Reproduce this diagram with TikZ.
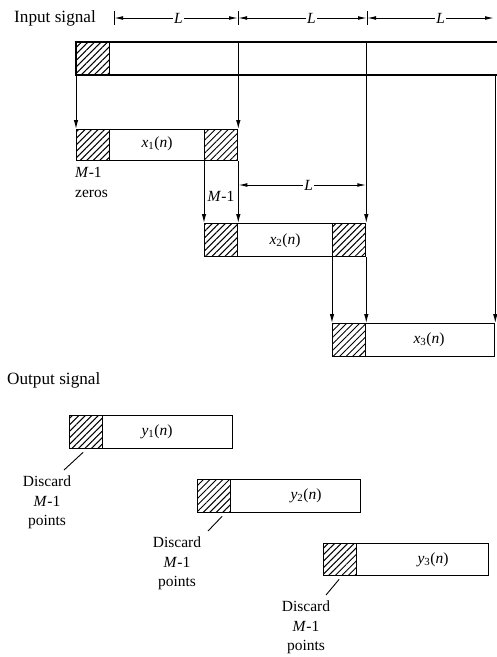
\documentclass[tikz,border=0pt]{standalone}
\usepackage{fontspec}
\setmainfont{Liberation Serif}
\usetikzlibrary{patterns.meta,arrows.meta,calc}
\tikzset{
 blk/.style={draw, line width=1.3pt, rectangle, inner sep=0pt, anchor=north west, minimum height=33pt, minimum width=162pt},
 hatchbox/.style={draw, line width=1.3pt, rectangle, inner sep=0pt, anchor=north west, minimum height=33pt, minimum width=33pt, pattern={Lines[angle=45,distance=4.6pt,line width=1pt]}},
 arr/.style={-{Latex[length=9pt,width=4.5pt]}, line width=1pt},
 dimline/.style={{Latex[length=9pt,width=3.8pt]}-{Latex[length=9pt,width=3.8pt]}, line width=1pt},
 lbl/.style={font=\fontsize{15.5}{19.5}\selectfont, inner sep=1pt},
 biglbl/.style={font=\fontsize{17.2}{19}\selectfont, inner sep=0pt},
 disc/.style={lbl, align=center, anchor=north},
 thinline/.style={line width=0.9pt},
}
\begin{document}
\begin{tikzpicture}[x=1pt,y=-1pt]
\useasboundingbox (0,0) rectangle (497,657);

% ---- Input signal ----
\node[biglbl, anchor=west] (insig) at (14,18) {Input signal};
\coordinate (t0) at (114,18);
\coordinate (t1) at (238,18);
\coordinate (t2) at (367,18);
\coordinate (t3) at (497,18);
\foreach \t in {t0,t1,t2} \draw[thinline] ($(\t)+(0,-7)$) -- ($(\t)+(0,7)$);
\draw[dimline] (t0) -- node[lbl, fill=white, pos=0.52] (L1) {\textit{L}} (t1);
\draw[dimline] (t1) -- node[lbl, fill=white, pos=0.57] (L2) {\textit{L}} (t2);
\draw[dimline] (t2) -- node[lbl, fill=white, pos=0.58] (L3) {\textit{L}} ($(t3)+(-3,0)$);

% input strip
\draw[line width=1.3pt] (500,42) -- (76,42) -- (76,75) -- (500,75);
\node[hatchbox] (inh) at (76,42) {};

% ---- blocks ----
\node[blk, minimum width=161pt, minimum height=31pt] (b1) at (76,129) {};
\node[hatchbox, minimum height=31pt] (b1a) at (76,129) {};
\node[hatchbox, minimum height=31pt] (b1b) at (204,129) {};
\node[lbl] (x1) at (157,144) {\textit{x}\textsubscript{1}(\textit{n})};

\node[blk, minimum width=161pt] (b2) at (204,223) {};
\node[hatchbox] (b2a) at (204,223) {};
\node[hatchbox] (b2b) at (332,223) {};
\node[lbl] (x2) at (285,241) {\textit{x}\textsubscript{2}(\textit{n})};

\node[blk, minimum width=162pt] (b3) at (332,323) {};
\node[hatchbox] (b3a) at (332,323) {};
\node[lbl] (x3) at (429,340) {\textit{x}\textsubscript{3}(\textit{n})};

% labels under block 1
\node[lbl, anchor=west] (m1) at (74,172) {\textit{M}-1};
\node[lbl, anchor=west] (zeros) at (74,194) {zeros};
\node[lbl] (m2) at (221,196) {\textit{M}-1};

% ---- arrows ----
\draw[arr] (inh.south west) -- (b1a.north west);
\draw[arr] (b1b.north east |- inh.north) -- (b1b.north east);
\draw[arr] (b2b.north east |- inh.north) -- (b2b.north east);
\draw[arr] (b3.north east |- inh.south) -- (b3.north east);
\draw[arr] (b1b.south west) -- (b2a.north west);
\draw[arr] (b1b.south east) -- (b2a.north east);
\draw[arr] (b2b.south west) -- (b3a.north west);
\draw[arr] (b2b.south east) -- (b3a.north east);

% middle L
\draw[dimline] (b1b.east |- 0,185) -- node[lbl, fill=white, pos=0.55] (L4) {\textit{L}} (b2b.east |- 0,185);

% ---- Output signal ----
\node[biglbl, anchor=west] (outsig) at (7,380) {Output signal};

\node[blk, minimum width=163pt] (o1) at (69,415) {};
\node[hatchbox] (o1a) at (69,415) {};
\node[lbl] (y1) at (157,432) {\textit{y}\textsubscript{1}(\textit{n})};

\node[blk, minimum width=163pt] (o2) at (197,479) {};
\node[hatchbox] (o2a) at (197,479) {};
\node[lbl] (y2) at (306,496) {\textit{y}\textsubscript{2}(\textit{n})};

\node[blk, minimum width=165pt, minimum height=32pt] (o3) at (323,543) {};
\node[hatchbox, minimum height=32pt] (o3a) at (323,543) {};
\node[lbl] (y3) at (433,560) {\textit{y}\textsubscript{3}(\textit{n})};

% discard labels
\node[disc] (d1) at (47,475) {Discard\\\textit{M}-1\\points};
\node[disc] (d2) at (177,536) {Discard\\\textit{M}-1\\points};
\node[disc] (d3) at (306,600) {Discard\\\textit{M}-1\\points};
\draw[thinline] ($(o1a.south)+(-3,3)$) -- ($(d1.north)+(17,-5)$);
\draw[thinline] ($(o2a.south)+(8,3)$) -- ($(d2.north)+(31,-5)$);
\draw[thinline] ($(o3a.south)+(-1,3)$) -- ($(d3.north)+(20,-5)$);
\end{tikzpicture}
\end{document}
